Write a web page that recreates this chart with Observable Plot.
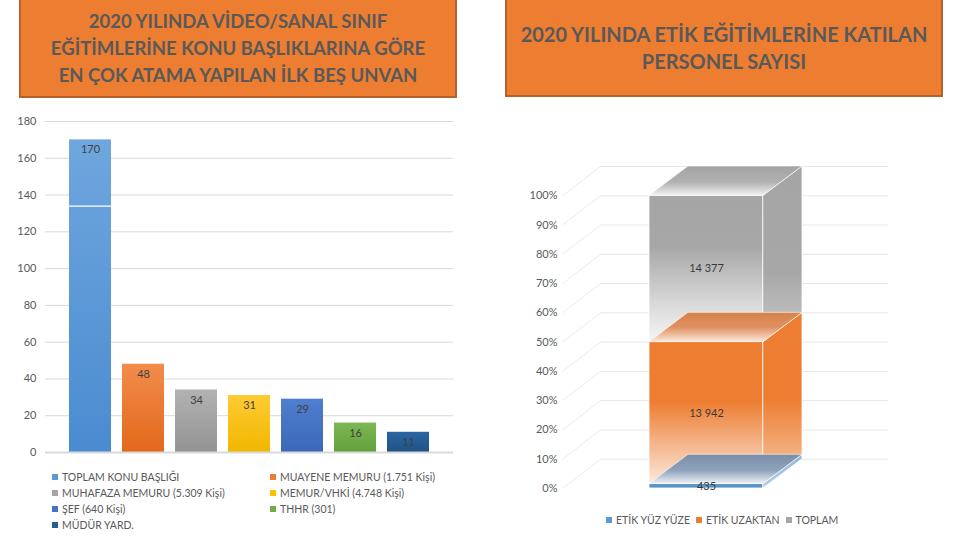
<!DOCTYPE html>
<html><head><meta charset="utf-8">
<script src="https://cdn.jsdelivr.net/npm/d3@7"></script>
<script src="https://cdn.jsdelivr.net/npm/@observablehq/plot@0.6"></script>
<style>
body{margin:0;width:960px;height:540px;position:relative;background:#fff;font-family:Lato,"Open Sans",sans-serif;overflow:hidden}
.title{position:absolute;background:#ED7D31;border:2px solid #b4622b;box-sizing:border-box;color:#595959;font-weight:bold;text-align:center;display:flex;align-items:center;justify-content:center;line-height:27px}
#title1{left:19px;top:-2px;width:438px;height:100px;font-size:18.5px}
#title2{left:505px;top:-2px;width:438px;height:99px;font-size:20px}
.chart{position:absolute}
#left{left:0;top:110px}
#right{left:500px;top:150px}
#leg1{position:absolute;left:52px;top:469px;display:grid;grid-template-columns:218px 220px;row-gap:0;font-size:10.5px;color:#595959}
#leg1 div,#leg2 div{display:flex;align-items:center;height:16px;white-space:nowrap}
.sw{display:inline-block;width:6px;height:6px;margin-right:4px}
#leg2{position:absolute;left:606px;top:512px;display:flex;gap:6px;font-size:10.5px;color:#595959}
</style></head>
<body>
<div class="title" id="title1"><div>2020 YILINDA VİDEO/SANAL SINIF<br>EĞİTİMLERİNE KONU BAŞLIKLARINA GÖRE<br>EN ÇOK ATAMA YAPILAN İLK BEŞ UNVAN</div></div>
<div class="title" id="title2"><div>2020 YILINDA ETİK EĞİTİMLERİNE KATILAN<br>PERSONEL SAYISI</div></div>
<div class="chart" id="left"></div>
<div class="chart" id="right"></div>
<div id="leg1"></div>
<div id="leg2"></div>
<script>
// ---- Left chart data ----
const categories = ["TOPLAM KONU BAŞLIĞI","MUAYENE MEMURU (1.751 Kişi)","MUHAFAZA MEMURU (5.309 Kişi)","MEMUR/VHKİ (4.748 Kişi)","ŞEF (640 Kişi)","THHR (301)","MÜDÜR YARD."];
const values = [170, 48, 34, 31, 29, 16, 11];
const leftTicks = [0, 20, 40, 60, 80, 100, 120, 140, 160, 180];
const splitMark = [134];
// ---- Right chart data ----
const etikSeries = ["ETİK YÜZ YÜZE", "ETİK UZAKTAN", "TOPLAM"];
const etikValues = [435, 13942, 14377];
const etikLabels = ["435", "13 942", "14 377"];
const pctTicks = [0, 0.1, 0.2, 0.3, 0.4, 0.5, 0.6, 0.7, 0.8, 0.9, 1];

// styles
const barTop = ["#6fa7de","#f28c4c","#b2b2b2","#ffcb33","#4f7fce","#7bb753","#2b66a3"];
const barBot = ["#4a8bd0","#e2681b","#939393","#f0b700","#3c67b8","#64a03b","#1f5285"];
const legendColors = ["#5B9BD5","#ED7D31","#A5A5A5","#FFC000","#4472C4","#70AD47","#255E91"];
const etikLegend = ["#5B9BD5","#ED7D31","#A5A5A5"];
const font = "Lato, 'Open Sans', sans-serif";

const barData = categories.map((c, i) => ({cat: c, value: values[i]}));

const left = Plot.plot({
  width: 470, height: 350, marginLeft: 45, marginRight: 17, marginTop: 11, marginBottom: 8,
  style: {fontFamily: font, fontSize: "11px", color: "#595959", background: "transparent"},
  x: {domain: categories, axis: null, paddingInner: 0.21, paddingOuter: 0.3, insetLeft: 7, insetRight: 7},
  y: {domain: [0, 180], ticks: leftTicks, tickSize: 0, tickPadding: 9, label: null},
  color: {type: "ordinal", domain: categories, range: categories.map((c, i) => `url(#barGrad${i})`)},
  marks: [
    Plot.ruleY(leftTicks.filter(t => t > 0), {stroke: "#d9d9d9", strokeWidth: 1}),
    Plot.barY(barData, {x: "cat", y: "value", fill: "cat"}),
    Plot.tickY(splitMark, {x: () => categories[0], y: d => d, stroke: "white", strokeWidth: 1.2}),
    Plot.ruleY([0], {stroke: "#d9d9d9", strokeWidth: 2}),
    Plot.text(barData, {x: "cat", y: "value", text: d => String(d.value), dy: 10, fill: "#404040", fontSize: 11})
  ]
});
{
  const defs = d3.select(left).insert("defs", ":first-child");
  categories.forEach((c, i) => {
    const g = defs.append("linearGradient").attr("id", `barGrad${i}`).attr("x1", 0).attr("y1", 0).attr("x2", 0).attr("y2", 1);
    g.append("stop").attr("offset", 0).attr("stop-color", barTop[i]);
    g.append("stop").attr("offset", 1).attr("stop-color", barBot[i]);
  });
}
document.getElementById("left").append(left);

// ---- Right 3D stacked 100% column ----
const DX = 0.342, DY = 0.1;         // depth offset (style)
const X_AXIS = -0.763, X_WALL = -0.43, X_END = 2.096;
const total = d3.sum(etikValues);
let cum = 0;
const segs = etikValues.map((v, i) => {
  const y0 = cum / total; cum += v;
  return {i, name: etikSeries[i], y0, y1: cum / total, label: etikLabels[i]};
});

const faceMarks = [];
[...segs].reverse().forEach(s => {
  faceMarks.push(Plot.rect([s], {x1: () => 0, x2: () => 1, y1: "y0", y2: "y1", fill: `url(#gFront${s.i})`, stroke: "white", strokeWidth: 0.8}));
  const side = [
    {x: 1, a: s.y0, b: s.y1},
    {x: 1 + DX, a: s.y0 + DY, b: s.y1 + DY}
  ];
  faceMarks.push(Plot.areaY(side, {x: "x", y1: "a", y2: "b", fill: `url(#gSide${s.i})`, stroke: "white", strokeWidth: 0.8, curve: "linear"}));
  const top = [
    {x: 0, a: s.y1, b: s.y1},
    {x: DX, a: s.y1, b: s.y1 + DY},
    {x: 1, a: s.y1, b: s.y1 + DY},
    {x: 1 + DX, a: s.y1 + DY, b: s.y1 + DY}
  ];
  faceMarks.push(Plot.areaY(top, {x: "x", y1: "a", y2: "b", fill: `url(#gTop${s.i})`, stroke: "white", strokeWidth: 0.6, curve: "linear"}));
});

const right = Plot.plot({
  width: 440, height: 350, marginLeft: 62, marginRight: 52, marginTop: 16, marginBottom: 12,
  style: {fontFamily: font, fontSize: "11px", color: "#595959", background: "transparent"},
  x: {domain: [X_AXIS, X_END], axis: null},
  y: {domain: [0, 1 + DY], ticks: pctTicks, tickSize: 0, tickPadding: 5, tickFormat: d => Math.round(d * 100) + "%", label: null},
  marks: [
    Plot.link(pctTicks, {x1: () => X_AXIS, y1: d => d, x2: () => X_WALL, y2: d => d + DY, stroke: "#ececec"}),
    Plot.ruleY(pctTicks, {y: d => d + DY, x1: () => X_WALL, x2: () => X_END, stroke: "#e6e6e6"}),
    ...faceMarks,
    Plot.text(segs, {x: () => 0.5, y: d => (d.y0 + d.y1) / 2, text: "label", fill: "#3a3a3a", fontSize: 11})
  ]
});
{
  const defs = d3.select(right).insert("defs", ":first-child");
  const grad = (id, stops) => {
    const g = defs.append("linearGradient").attr("id", id).attr("x1", 0).attr("y1", 0).attr("x2", 0).attr("y2", 1);
    stops.forEach(([o, c]) => g.append("stop").attr("offset", o).attr("stop-color", c));
  };
  // front faces
  grad("gFront2", [[0, "#a5a5a5"], [0.35, "#a7a7a7"], [0.75, "#dadada"], [1, "#f5f5f5"]]);
  grad("gFront1", [[0, "#ED7D31"], [0.42, "#ED7D31"], [0.97, "#fbe3d3"], [1, "#fdf0e7"]]);
  grad("gFront0", [[0, "#5b93c9"], [1, "#5b93c9"]]);
  // side faces
  grad("gSide2", [[0, "#a5a5a5"], [0.6, "#a7a7a7"], [1, "#c9c9c9"]]);
  grad("gSide1", [[0, "#ED7D31"], [0.5, "#ED7D31"], [1, "#f7c9a8"]]);
  grad("gSide0", [[0, "#8fb5dd"], [1, "#b7d0ea"]]);
  // top faces (back -> front)
  grad("gTop2", [[0, "#a3a3a3"], [0.55, "#b1b1b1"], [1, "#f2f2f2"]]);
  grad("gTop1", [[0, "#d8824a"], [0.5, "#e09060"], [1, "#fbe6d8"]]);
  grad("gTop0", [[0, "#7b8ea8"], [0.55, "#8fa2bb"], [1, "#eef2f7"]]);
}
document.getElementById("right").append(right);

// ---- legends ----
const leg1 = document.getElementById("leg1");
categories.forEach((c, i) => {
  const d = document.createElement("div");
  d.innerHTML = `<span class="sw" style="background:${legendColors[i]}"></span>${c}`;
  leg1.append(d);
});
const leg2 = document.getElementById("leg2");
etikSeries.forEach((c, i) => {
  const d = document.createElement("div");
  d.innerHTML = `<span class="sw" style="background:${etikLegend[i]}"></span>${c}`;
  leg2.append(d);
});
</script>
</body></html>
